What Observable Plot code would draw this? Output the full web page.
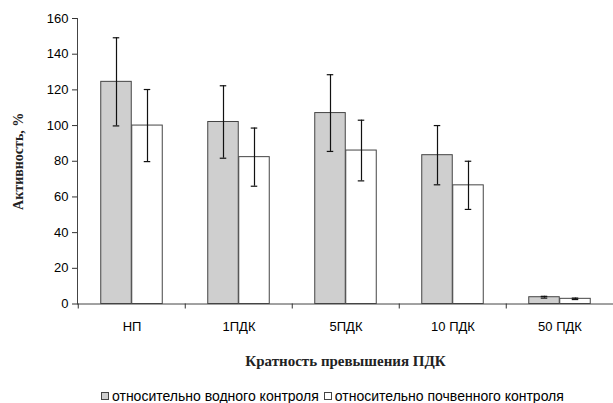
<!DOCTYPE html>
<html>
<head>
<meta charset="utf-8">
<script src="https://cdn.jsdelivr.net/npm/d3@7"></script>
<script src="https://cdn.jsdelivr.net/npm/@observablehq/plot@0.6"></script>
<style>
  body { margin: 0; background: #fff; }
  #chart svg [aria-label="y-axis label"] text,
  #chart svg [aria-label="x-axis label"] text {
    font-family: "Liberation Serif", "Times New Roman", serif;
    font-weight: bold;
    font-size: 14px;
    fill: #222;
  }
  #chart svg [aria-label="x-axis label"] text { font-size: 15px; }
  #legend {
    height: 22px;
    display: flex;
    align-items: center;
    margin-left: 101px;
    font: 14px "Liberation Sans", Arial, sans-serif;
    color: #000;
    white-space: nowrap;
  }
  #legend .sw {
    width: 8px; height: 8px; box-sizing: border-box;
    border: 1px solid #444; margin-right: 3px;
  }
  #legend .item { display: flex; align-items: center; margin-right: 5px; }
</style>
</head>
<body>
<div id="chart"></div>
<div id="legend"></div>
<script>
const categories = ["НП", "1ПДК", "5ПДК", "10 ПДК", "50 ПДК"];
const waterValues = [124.5, 102, 107, 83.4, 3.8];
const waterErrors = [24.7, 20.3, 21.5, 16.6, 0.5];
const soilValues = [100, 82.3, 86, 66.5, 2.9];
const soilErrors = [20.2, 16.3, 17, 13.5, 0.4];
const yTicks = [0, 20, 40, 60, 80, 100, 120, 140, 160];
const seriesNames = ["относительно водного контроля", "относительно почвенного контроля"];
const seriesColors = ["#cfcfcf", "#ffffff"];

const data = categories.map((c, i) => ({
  cat: c,
  water: waterValues[i], wLo: waterValues[i] - waterErrors[i], wHi: waterValues[i] + waterErrors[i],
  soil: soilValues[i], sLo: soilValues[i] - soilErrors[i], sHi: soilValues[i] + soilErrors[i]
}));

const bw = (614.5 - 77) / categories.length; // band width
const half = bw / 2;
const barW = 31;
const capW = 7;

const chart = Plot.plot({
  width: 613,
  height: 385,
  marginLeft: 77,
  marginTop: 18,
  marginBottom: 81.5,
  marginRight: 0,
  style: { fontFamily: "'Liberation Sans', Arial, sans-serif", fontSize: "13px", color: "#000", background: "#fff", overflow: "visible" },
  x: { domain: categories, range: [77, 614.5], padding: 0 },
  y: { domain: [0, 160] },
  marks: [
    Plot.barY(data, { x: "cat", y: "water", fill: seriesColors[0], stroke: "#444", strokeWidth: 1,
      insetLeft: half - barW, insetRight: half }),
    Plot.barY(data, { x: "cat", y: "soil", fill: seriesColors[1], stroke: "#444", strokeWidth: 1,
      insetLeft: half, insetRight: half - barW }),
    Plot.ruleX(data, { x: "cat", y1: "wLo", y2: "wHi", dx: -barW / 2, stroke: "#111", strokeWidth: 1.2 }),
    Plot.ruleX(data, { x: "cat", y1: "sLo", y2: "sHi", dx: barW / 2, stroke: "#111", strokeWidth: 1.2 }),
    Plot.tickY(data, { x: "cat", y: "wHi", stroke: "#111", strokeWidth: 1.2,
      insetLeft: half - barW / 2 - capW / 2, insetRight: half + barW / 2 - capW / 2 }),
    Plot.tickY(data, { x: "cat", y: "wLo", stroke: "#111", strokeWidth: 1.2,
      insetLeft: half - barW / 2 - capW / 2, insetRight: half + barW / 2 - capW / 2 }),
    Plot.tickY(data, { x: "cat", y: "sHi", stroke: "#111", strokeWidth: 1.2,
      insetLeft: half + barW / 2 - capW / 2, insetRight: half - barW / 2 - capW / 2 }),
    Plot.tickY(data, { x: "cat", y: "sLo", stroke: "#111", strokeWidth: 1.2,
      insetLeft: half + barW / 2 - capW / 2, insetRight: half - barW / 2 - capW / 2 }),
    Plot.ruleY([0], { stroke: "#444" }),
    Plot.frame({ anchor: "left", stroke: "#444" }),
    Plot.axisY({ ticks: yTicks, tickSize: 5, tickPadding: 4, stroke: "#333",
      label: "Активность, %", labelAnchor: "center", labelArrow: "none", labelOffset: 64 }),
    Plot.axisX({ tickSize: 0, tickPadding: 18,
      label: "Кратность превышения ПДК", labelAnchor: "center", labelArrow: "none", labelOffset: 62 }),
    Plot.axisX({ tickSize: 5, tickFormat: () => "", dx: -half, label: null, stroke: "#333" })
  ]
});
document.getElementById("chart").appendChild(chart);

const legend = document.getElementById("legend");
seriesNames.forEach((name, i) => {
  const item = document.createElement("div");
  item.className = "item";
  const sw = document.createElement("div");
  sw.className = "sw";
  sw.style.background = seriesColors[i];
  const t = document.createElement("span");
  t.textContent = name;
  item.appendChild(sw);
  item.appendChild(t);
  legend.appendChild(item);
});
</script>
</body>
</html>
